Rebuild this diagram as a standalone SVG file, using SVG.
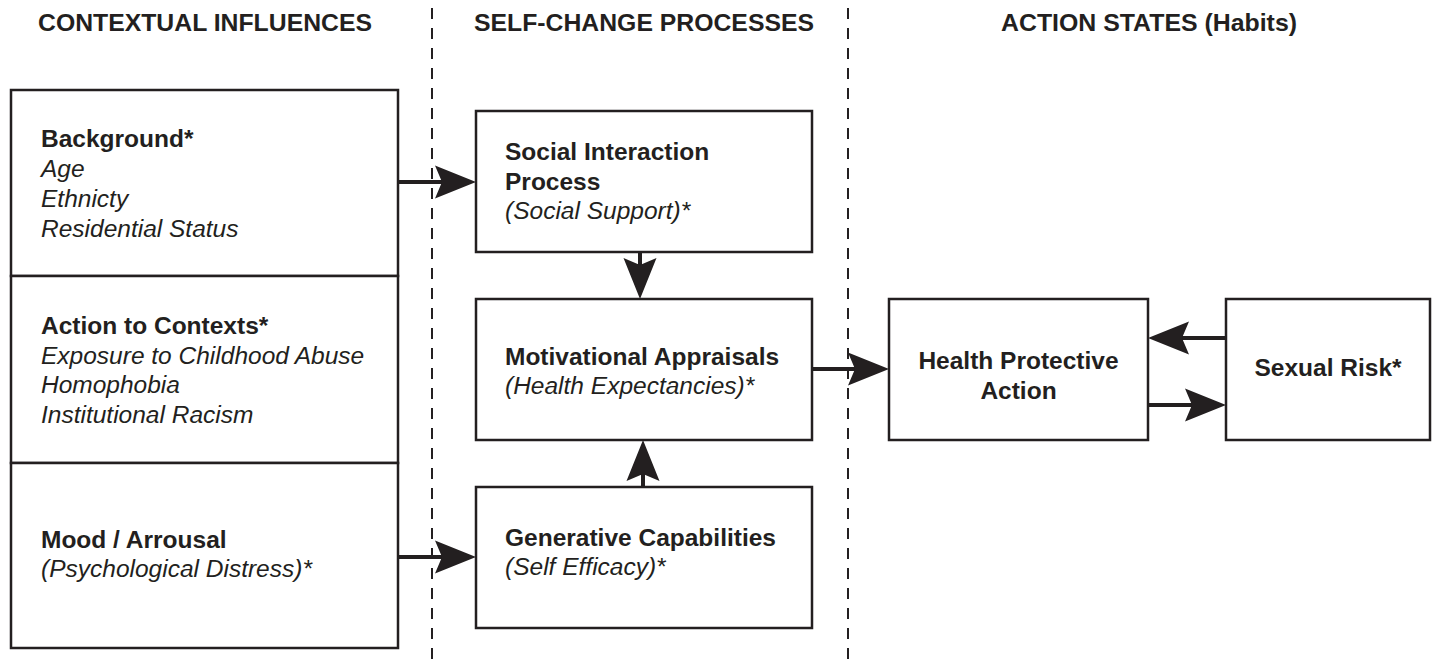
<svg xmlns="http://www.w3.org/2000/svg" width="1432" height="665" viewBox="0 0 1432 665">
<defs>
<style>
.box{fill:#fff;stroke:#231f20;stroke-width:2.5}
.hdr{font-family:"Liberation Sans",Arial,sans-serif;font-weight:bold;font-size:24.5px;fill:#231f20}
.b{font-family:"Liberation Sans",Arial,sans-serif;font-weight:bold;font-size:24.5px;fill:#231f20}
.i{font-family:"Liberation Sans",Arial,sans-serif;font-style:italic;font-size:24.5px;fill:#231f20}
.c{text-anchor:middle}
.dash{stroke:#231f20;stroke-width:2;stroke-dasharray:11 9;fill:none}
.arr{stroke:#231f20;stroke-width:4;fill:none;marker-end:url(#ah)}
</style>
<marker id="ah" markerUnits="userSpaceOnUse" viewBox="0 -18 42 36" markerWidth="42" markerHeight="36" refX="9" refY="0" orient="auto">
<path d="M0,-16.5 L41,0 L0,16.5 L7,0 Z" fill="#231f20"/>
</marker>
</defs>
<rect width="1432" height="665" fill="#fff"/>
<g id="headers">
<text class="hdr" x="38" y="31" textLength="334" lengthAdjust="spacingAndGlyphs">CONTEXTUAL INFLUENCES</text>
<text class="hdr" x="474" y="31" textLength="340" lengthAdjust="spacingAndGlyphs">SELF-CHANGE PROCESSES</text>
<text class="hdr" x="1001" y="31" textLength="296" lengthAdjust="spacingAndGlyphs">ACTION STATES (Habits)</text>
</g>
<g id="dividers">
<line class="dash" x1="432" y1="8" x2="432" y2="665"/>
<line class="dash" x1="848" y1="8" x2="848" y2="665"/>
</g>
<g id="connectors">
<line class="arr" x1="398" y1="182" x2="444" y2="182"/>
<line class="arr" x1="398" y1="557" x2="444" y2="557"/>
<line class="arr" x1="640" y1="252" x2="640" y2="267"/>
<line class="arr" x1="643" y1="487" x2="643" y2="472"/>
<line class="arr" x1="812" y1="369" x2="857" y2="369"/>
<line class="arr" x1="1226" y1="338" x2="1180" y2="338"/>
<line class="arr" x1="1148" y1="405" x2="1194" y2="405"/>
</g>
<g id="background">
<rect class="box" x="11" y="90" width="387" height="186"/>
<text class="b" x="41" y="147">Background*</text>
<text class="i" x="41" y="177">Age</text>
<text class="i" x="41" y="207">Ethnicty</text>
<text class="i" x="41" y="237">Residential Status</text>
</g>
<g id="action-to-contexts">
<rect class="box" x="11" y="276" width="387" height="187"/>
<text class="b" x="41" y="334">Action to Contexts*</text>
<text class="i" x="41" y="364">Exposure to Childhood Abuse</text>
<text class="i" x="41" y="393">Homophobia</text>
<text class="i" x="41" y="423">Institutional Racism</text>
</g>
<g id="mood-arrousal">
<rect class="box" x="11" y="463" width="387" height="185"/>
<text class="b" x="41" y="548">Mood / Arrousal</text>
<text class="i" x="41" y="577">(Psychological Distress)*</text>
</g>
<g id="social-interaction">
<rect class="box" x="476" y="111" width="336" height="141"/>
<text class="b" x="505" y="160">Social Interaction</text>
<text class="b" x="505" y="189.5">Process</text>
<text class="i" x="505" y="219">(Social Support)*</text>
</g>
<g id="motivational-appraisals">
<rect class="box" x="476" y="299" width="336" height="141"/>
<text class="b" x="505" y="365">Motivational Appraisals</text>
<text class="i" x="505" y="394">(Health Expectancies)*</text>
</g>
<g id="generative-capabilities">
<rect class="box" x="476" y="487" width="336" height="141"/>
<text class="b" x="505" y="546">Generative Capabilities</text>
<text class="i" x="505" y="575">(Self Efficacy)*</text>
</g>
<g id="health-protective-action">
<rect class="box" x="889" y="299" width="259" height="141"/>
<text class="b c" x="1018.5" y="369">Health Protective</text>
<text class="b c" x="1018.5" y="399">Action</text>
</g>
<g id="sexual-risk">
<rect class="box" x="1226" y="299" width="204" height="141"/>
<text class="b c" x="1328" y="376">Sexual Risk*</text>
</g>
</svg>
